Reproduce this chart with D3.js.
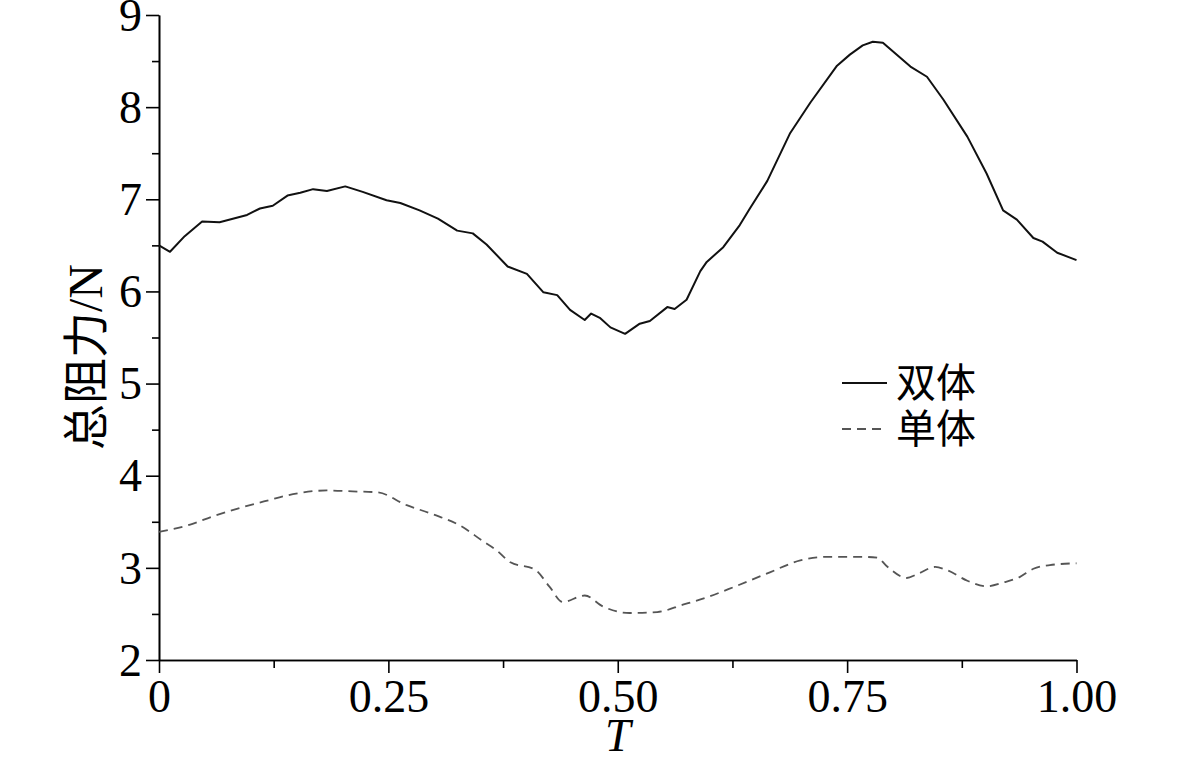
<!DOCTYPE html>
<html>
<head>
<meta charset="utf-8">
<script src="https://cdn.jsdelivr.net/npm/d3@7"></script>
<style>
  body { margin: 0; background: #fff; }
  .axis path, .axis line { stroke: #000; stroke-width: 1.6; }
  .axis text { font-family: "Liberation Serif", "Times New Roman", serif; font-size: 46px; fill: #000; }
</style>
</head>
<body>
<div id="chart"></div>
<script>
// time fraction T and total resistance (N) for the two hull types
var tDouble = [0, 0.012, 0.028, 0.047, 0.066, 0.096, 0.110, 0.124, 0.140, 0.154, 0.168, 0.183, 0.203, 0.222, 0.248,
    0.263, 0.284, 0.304, 0.325, 0.342, 0.357, 0.380, 0.401, 0.419, 0.434, 0.448, 0.464, 0.471, 0.481, 0.492, 0.508,
    0.524, 0.535, 0.554, 0.562, 0.575, 0.590, 0.597, 0.615, 0.633, 0.644, 0.663, 0.688, 0.710, 0.739, 0.753, 0.767,
    0.778, 0.789, 0.819, 0.837, 0.855, 0.881, 0.902, 0.920, 0.935, 0.953, 0.963, 0.979, 1.000];
var fDouble = [6.50, 6.43, 6.60, 6.76, 6.75, 6.83, 6.90, 6.93, 7.04, 7.07, 7.11, 7.09, 7.14, 7.08, 6.99,
    6.96, 6.88, 6.79, 6.66, 6.63, 6.51, 6.27, 6.19, 5.99, 5.96, 5.80, 5.69, 5.76, 5.71, 5.61, 5.54,
    5.65, 5.68, 5.83, 5.81, 5.91, 6.22, 6.32, 6.48, 6.72, 6.90, 7.20, 7.72, 8.05, 8.45, 8.57, 8.67,
    8.71, 8.70, 8.44, 8.33, 8.08, 7.68, 7.28, 6.88, 6.78, 6.58, 6.54, 6.42, 6.34];

var tSingle = [0, 0.034, 0.059, 0.088, 0.118, 0.146, 0.183, 0.211, 0.238, 0.270, 0.299, 0.328, 0.353, 0.368, 0.383,
    0.410, 0.426, 0.440, 0.464, 0.484, 0.513, 0.543, 0.571, 0.597, 0.626, 0.663, 0.699, 0.728, 0.764, 0.783,
    0.793, 0.815, 0.826, 0.846, 0.860, 0.881, 0.902, 0.920, 0.938, 0.953, 0.971, 1.000];
var fSingle = [3.39, 3.47, 3.56, 3.65, 3.73, 3.80, 3.84, 3.83, 3.82, 3.68, 3.58, 3.46, 3.29, 3.19, 3.06,
    2.98, 2.79, 2.63, 2.70, 2.58, 2.51, 2.52, 2.60, 2.68, 2.79, 2.94, 3.08, 3.12, 3.12, 3.11,
    3.02, 2.89, 2.93, 3.01, 2.97, 2.86, 2.80, 2.84, 2.90, 2.99, 3.03, 3.05];

var xTicks = [0, 0.25, 0.5, 0.75, 1];
var xTickLabels = ["0", "0.25", "0.50", "0.75", "1.00"];
var xMinor = [0.125, 0.375, 0.625, 0.875];
var yTicks = [2, 3, 4, 5, 6, 7, 8, 9];
var yMinor = [2.5, 3.5, 4.5, 5.5, 6.5, 7.5, 8.5];

var seriesNames = ["双体", "单体"];

var width = 1181, height = 757;
var margin = {top: 15, right: 104.5, bottom: 97, left: 159};

var svg = d3.select("#chart").append("svg")
    .attr("width", width)
    .attr("height", height);

var x = d3.scaleLinear().domain([0, 1]).range([margin.left, width - margin.right]);
var y = d3.scaleLinear().domain([2, 9]).range([height - margin.bottom, margin.top]);

// minor ticks first, majors on top
svg.append("g")
    .attr("class", "axis")
    .attr("transform", "translate(0," + (height - margin.bottom) + ")")
    .call(d3.axisBottom(x).tickValues(xMinor).tickSize(8).tickSizeOuter(0).tickFormat(""));
svg.append("g")
    .attr("class", "axis")
    .attr("transform", "translate(" + margin.left + ",0)")
    .call(d3.axisLeft(y).tickValues(yMinor).tickSize(7).tickSizeOuter(0).tickFormat(""));

var xAxis = svg.append("g")
    .attr("class", "axis")
    .attr("transform", "translate(0," + (height - margin.bottom) + ")")
    .call(d3.axisBottom(x).tickValues(xTicks).tickSize(13).tickSizeOuter(0)
        .tickFormat(function (d, i) { return xTickLabels[i]; }).tickPadding(4));
xAxis.selectAll("text").attr("dy", "0.75em");

var yAxis = svg.append("g")
    .attr("class", "axis")
    .attr("transform", "translate(" + margin.left + ",0)")
    .call(d3.axisLeft(y).tickValues(yTicks).tickSize(13).tickSizeOuter(0)
        .tickFormat(d3.format("d")).tickPadding(4));
yAxis.selectAll("text").attr("dy", "0.33em");

// lines
var lineDouble = d3.line()
    .x(function (d, i) { return x(tDouble[i]); })
    .y(function (d) { return y(d); });
var lineSingle = d3.line()
    .x(function (d, i) { return x(tSingle[i]); })
    .y(function (d) { return y(d); })
    .curve(d3.curveMonotoneX);

svg.append("path")
    .attr("d", lineDouble(fDouble))
    .attr("fill", "none")
    .attr("stroke", "#111")
    .attr("stroke-width", 2)
    .attr("stroke-linejoin", "round");

svg.append("path")
    .attr("d", lineSingle(fSingle))
    .attr("fill", "none")
    .attr("stroke", "#555")
    .attr("stroke-width", 1.8)
    .attr("stroke-dasharray", "9,6");

// axis titles
var yTitle = svg.append("text")
    .attr("transform", "translate(102,357) rotate(-90)")
    .attr("text-anchor", "middle")
    .style("font-family", "'Liberation Serif', 'Noto Sans CJK SC', serif")
    .style("font-size", "46px");
yTitle.append("tspan").text("总阻力");
yTitle.append("tspan").style("font-size", "48px").text("/N");

svg.append("text")
    .attr("x", x(0.5))
    .attr("y", 751)
    .attr("text-anchor", "middle")
    .style("font-family", "'Liberation Serif', serif")
    .style("font-style", "italic")
    .style("font-size", "46px")
    .text("T");

// legend
var legend = svg.append("g").attr("transform", "translate(842,383)");
legend.append("line")
    .attr("x1", 0).attr("x2", 45).attr("y1", 0).attr("y2", 0)
    .attr("stroke", "#111").attr("stroke-width", 2);
legend.append("line")
    .attr("x1", 0).attr("x2", 45).attr("y1", 46).attr("y2", 46)
    .attr("stroke", "#555").attr("stroke-width", 1.8)
    .attr("stroke-dasharray", "9,6");
legend.selectAll("text.lbl")
    .data(seriesNames)
    .enter().append("text")
    .attr("class", "lbl")
    .attr("x", 54)
    .attr("y", function (d, i) { return i * 46 + 14; })
    .style("font-family", "'Noto Sans CJK SC', sans-serif")
    .style("font-size", "40px")
    .text(function (d) { return d; });
</script>
</body>
</html>
